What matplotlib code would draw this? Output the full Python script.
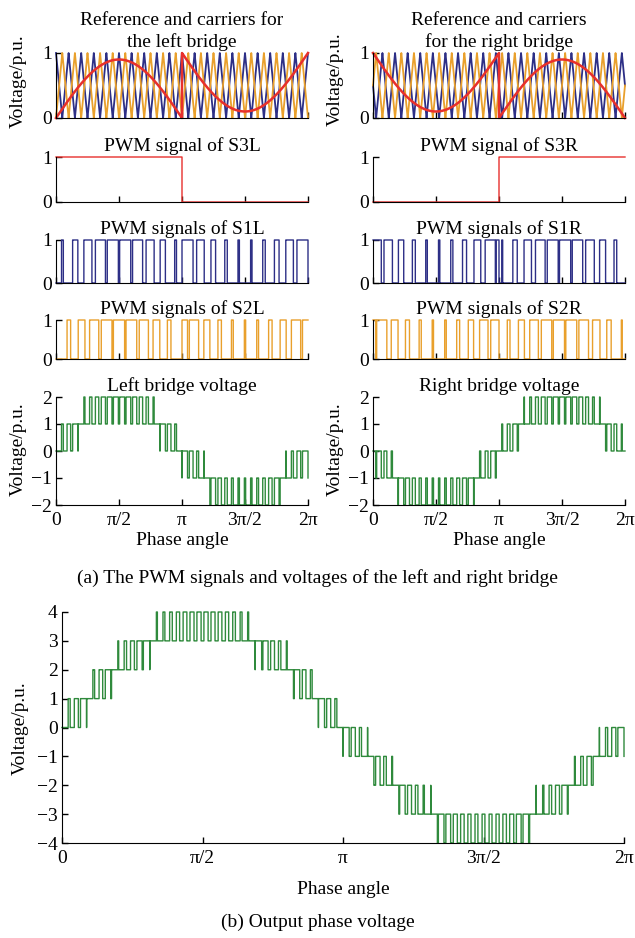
import numpy as np
import matplotlib
matplotlib.use("Agg")
import matplotlib.pyplot as plt

plt.rcParams['font.family'] = ['Liberation Serif', 'DejaVu Serif']

# ---- data / parameters ----
MOD_INDEX = 0.9                 # peak of the sine reference
CARRIERS_PER_CYCLE = 20         # triangular carrier periods over 2*pi
PHASE_LEFT = [0.0, 0.5]         # blue, orange carrier phase (fraction of period), left bridge
PHASE_RIGHT = [0.25, 0.75]      # blue, orange carrier phase, right bridge
X_TICKS = [0, np.pi / 2, np.pi, 3 * np.pi / 2, 2 * np.pi]
X_TICK_LABELS = ['0', 'π/2', 'π', '3π/2', '2π']
PWM_TICKS = [0, 1]
BRIDGE_TICKS = [-2, -1, 0, 1, 2]
OUT_TICKS = [-4, -3, -2, -1, 0, 1, 2, 3, 4]

BLUE = '#2d2f86'
ORANGE = '#e9a02c'
RED = '#e8302c'
GREEN = '#2f8a3c'

N = 60001
theta = np.linspace(0, 2 * np.pi, N)
first = theta < np.pi
s = np.abs(np.sin(theta))


def carrier(phase):
    u = np.mod(theta / (2 * np.pi) * CARRIERS_PER_CYCLE + phase, 1.0)
    return np.abs(2 * u - 1)


ref_L = np.where(first, MOD_INDEX * s, 1 - MOD_INDEX * s)
ref_R = np.where(first, 1 - MOD_INDEX * s, MOD_INDEX * s)
S3L = first.astype(float)
S3R = (~first).astype(float)

cL1, cL2 = carrier(PHASE_LEFT[0]), carrier(PHASE_LEFT[1])
cR1, cR2 = carrier(PHASE_RIGHT[0]), carrier(PHASE_RIGHT[1])

S1L = (ref_L > cL1).astype(float)
S2L = (ref_L > cL2).astype(float)
S1R = (ref_R > cR1).astype(float)
S2R = (ref_R > cR2).astype(float)

VL = S1L + S2L - 2 * (1 - S3L)
VR = S1R + S2R - 2 * (1 - S3R)
VOUT = VL - VR

W, H = 635, 938
fig = plt.figure(figsize=(W / 100, H / 100), dpi=100)
FS = 14


def make_ax(x0, x1, ytop, ybot):
    ax = fig.add_axes([x0 / W, 1 - ybot / H, (x1 - x0) / W, (ybot - ytop) / H])
    for sp in ['top', 'right']:
        ax.spines[sp].set_visible(False)
    ax.tick_params(direction='in', length=4, width=1, labelsize=FS, pad=3)
    ax.tick_params(axis='x', pad=5)
    ax.set_xlim(0, 2 * np.pi)
    ax.set_xticks(X_TICKS)
    return ax


cols = [(56, 308), (373, 625)]
rows = [(53, 118), (157, 202), (240, 283), (320, 359), (397, 505)]

titles = [
    ['Reference and carriers for\nthe left bridge', 'PWM signal of S3L',
     'PWM signals of S1L', 'PWM signals of S2L', 'Left bridge voltage'],
    ['Reference and carriers\nfor the right bridge', 'PWM signal of S3R',
     'PWM signals of S1R', 'PWM signals of S2R', 'Right bridge voltage'],
]

sig = [
    [(cL1, cL2, ref_L), S3L, S1L, S2L, VL],
    [(cR1, cR2, ref_R), S3R, S1R, S2R, VR],
]
ylab_x = [18, 335]
ylab_top_y = [81, 79]

for c, (x0, x1) in enumerate(cols):
    for r, (yt, yb) in enumerate(rows):
        ax = make_ax(x0, x1, yt, yb)
        ax.set_title(titles[c][r], fontsize=FS, pad=4, linespacing=1.35)
        if r == 0:
            c1, c2, ref = sig[c][r]
            ax.plot(theta, c1, color=BLUE, lw=1.3, clip_on=False)
            ax.plot(theta, c2, color=ORANGE, lw=1.3, clip_on=False)
            ax.plot(theta, ref, color=RED, lw=1.8, clip_on=False)
            ax.set_ylim(0, 1)
            ax.set_yticks(PWM_TICKS)
        elif r < 4:
            color = [RED, BLUE, ORANGE][r - 1]
            ax.plot(theta, sig[c][r], color=color, lw=1.0, drawstyle='steps-post', clip_on=False)
            ax.set_ylim(0, 1)
            ax.set_yticks(PWM_TICKS)
        else:
            ax.plot(theta, sig[c][r], color=GREEN, lw=1.0, drawstyle='steps-post', clip_on=False)
            ax.set_ylim(-2, 2)
            ax.set_yticks(BRIDGE_TICKS)
        if r == 4:
            ax.set_xticklabels(X_TICK_LABELS)
            ax.set_xlabel('Phase angle', fontsize=FS, labelpad=2)
        else:
            ax.set_xticklabels([])
    fig.text(ylab_x[c] / W, 1 - ylab_top_y[c] / H, 'Voltage/p.u.', rotation=90,
             ha='center', va='center', fontsize=FS)
    fig.text(ylab_x[c] / W, 1 - 449 / H, 'Voltage/p.u.', rotation=90,
             ha='center', va='center', fontsize=FS)

fig.text(0.5, 1 - 578 / H, '(a) The PWM signals and voltages of the left and right bridge',
         ha='center', va='center', fontsize=FS)

ax = make_ax(62, 624, 612, 843)
ax.plot(theta, VOUT, color=GREEN, lw=1.0, drawstyle='steps-post', clip_on=False)
ax.set_ylim(-4, 4)
ax.set_yticks(OUT_TICKS)
ax.set_xticklabels(X_TICK_LABELS)
ax.set_xlabel('Phase angle', fontsize=FS, labelpad=10)
fig.text(20 / W, 1 - 728 / H, 'Voltage/p.u.', rotation=90, ha='center', va='center', fontsize=FS)
fig.text(0.5, 1 - 922 / H, '(b) Output phase voltage', ha='center', va='center', fontsize=FS)

fig.savefig('out.png', dpi=100)
